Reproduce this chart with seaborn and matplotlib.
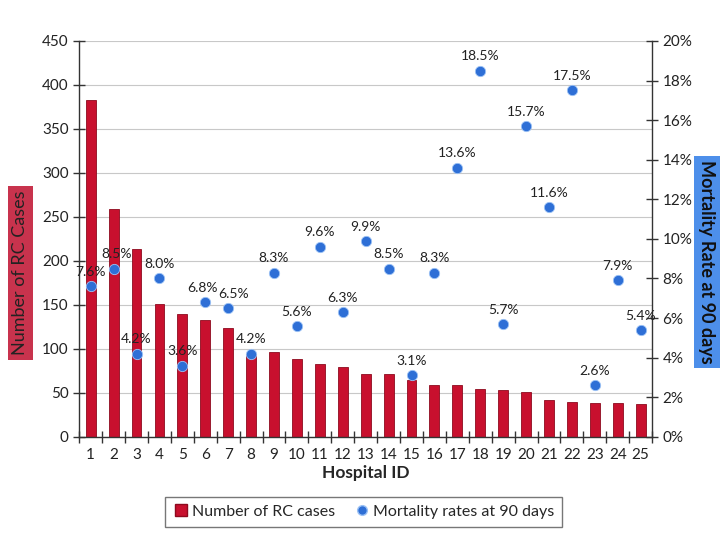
import matplotlib
matplotlib.use("Agg")
import matplotlib.pyplot as plt
import seaborn as sns
import pandas as pd
import numpy as np
from matplotlib.lines import Line2D
from matplotlib.ticker import FuncFormatter, MultipleLocator

hospital_ids = [str(i) for i in range(1, 26)]
rc_cases = [383, 259, 213, 151, 140, 133, 124, 94, 96, 89, 83, 79, 71, 71, 65,
            59, 59, 54, 53, 51, 42, 40, 38, 38, 37]
mortality = [7.6, 8.5, 4.2, 8.0, 3.6, 6.8, 6.5, 4.2, 8.3, 5.6, 9.6, 6.3, 9.9,
             8.5, 3.1, 8.3, 13.6, 18.5, 5.7, 15.7, 11.6, 17.5, 2.6, 7.9, 5.4]

df = pd.DataFrame({"Hospital": hospital_ids, "Cases": rc_cases, "Mortality": mortality})

sns.set_style("white")
plt.rcParams["font.family"] = ["Lato", "DejaVu Sans"]

fig = plt.figure(figsize=(7.27, 5.46), dpi=100)
ax = fig.add_axes([0.109, 0.2, 0.788, 0.725])

bar_color = "#C8102E"
sns.barplot(data=df, x="Hospital", y="Cases", color=bar_color, width=0.43,
            edgecolor="#8E0A1E", linewidth=0.6, saturation=1, ax=ax, zorder=2)
ax.set_ylim(0, 450)
ax.set_xlim(-0.5, 24.5)
ax.yaxis.set_major_locator(MultipleLocator(50))
ax.grid(axis="y", color="#C8C8C8", linewidth=0.8, zorder=0)
ax.set_axisbelow(True)

ax2 = ax.twinx()
sns.scatterplot(x=np.arange(len(mortality)), y=mortality, ax=ax2, s=55,
                color="#2E6FD6", edgecolor="#9CC2F5", linewidth=0.6, zorder=5)
ax2.set_ylim(0, 20)
ax2.set_xlim(-0.5, 24.5)
ax2.yaxis.set_major_locator(MultipleLocator(2))
ax2.yaxis.set_major_formatter(FuncFormatter(lambda v, p: f"{v:.0f}%"))
label_dx = {1: 2, 5: -2, 6: 4}
for i, m in enumerate(mortality):
    ax2.annotate(f"{m:.1f}%", (i, m), xytext=(label_dx.get(i, 0), 6),
                 textcoords="offset points",
                 ha="center", va="bottom", fontsize=10, color="#222222")

ax.spines["top"].set_visible(False)
ax.spines["right"].set_visible(False)
for s in ("left", "bottom", "top"):
    ax2.spines[s].set_visible(False)
for sp in (ax.spines["left"], ax.spines["bottom"], ax2.spines["right"]):
    sp.set_color("#333333")
    sp.set_linewidth(1.0)

ax.tick_params(axis="y", direction="inout", length=8, width=1, color="#333333",
               labelsize=11, labelcolor="#222222", left=True)
ax2.tick_params(axis="y", direction="inout", length=8, width=1, color="#333333",
                labelsize=11, labelcolor="#222222", right=True)
ax.set_xticks(range(25))
ax.set_xticklabels(hospital_ids)
ax.set_xticks(np.arange(-0.5, 25, 1), minor=True)
ax.tick_params(axis="x", which="major", length=0, labelsize=11, labelcolor="#222222", pad=8)
ax.tick_params(axis="x", which="minor", direction="inout", length=8, width=1,
               color="#333333", bottom=True)
ax.set_xlabel("Hospital ID", fontsize=12.5, fontweight="bold", labelpad=2)
ax.set_ylabel("")
ax2.set_ylabel("")

fig.text(0.028, 0.50, "Number of RC Cases", rotation=90, ha="center", va="center",
         fontsize=13, color="#222222",
         bbox=dict(boxstyle="square,pad=0.25", facecolor="#C8334D", edgecolor="none"))
fig.text(0.972, 0.52, "Mortality Rate at 90 days", rotation=270, ha="center", va="center",
         fontsize=13, fontweight="bold", color="#111111",
         bbox=dict(boxstyle="square,pad=0.25", facecolor="#4D8FEA", edgecolor="none"))

handles = [Line2D([0], [0], marker="s", linestyle="none", markersize=8,
                  markerfacecolor=bar_color, markeredgecolor="#8E0A1E"),
           Line2D([0], [0], marker="o", linestyle="none", markersize=7,
                  markerfacecolor="#2E6FD6", markeredgecolor="#9CC2F5")]
leg = fig.legend(handles, ["Number of RC cases", "Mortality rates at 90 days"],
                 loc="center", bbox_to_anchor=(0.5, 0.063), ncol=2, fontsize=11.5,
                 frameon=True, fancybox=False, handletextpad=0.2, columnspacing=1.2,
                 handlelength=1.0, borderpad=0.5)
leg.get_frame().set_edgecolor("#555555")
leg.get_frame().set_linewidth(1.0)

fig.savefig("out.png", dpi=100)
